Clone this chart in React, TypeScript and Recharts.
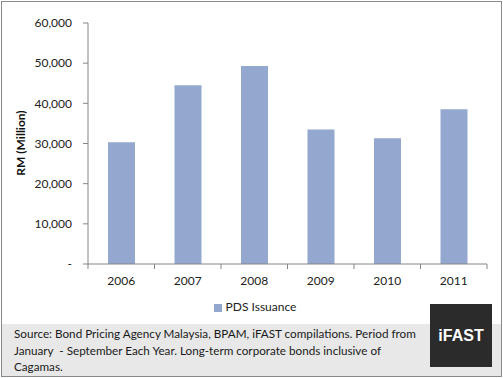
import { Bar, BarChart, Legend, XAxis, YAxis } from "recharts";

const years = ["2006", "2007", "2008", "2009", "2010", "2011"];
const pdsIssuance = [30300, 44500, 49300, 33500, 31300, 38500];
const yTicks = [0, 10000, 20000, 30000, 40000, 50000, 60000];
const footerLines = [
  "Source: Bond Pricing Agency Malaysia, BPAM, iFAST compilations. Period from",
  "January  - September Each Year. Long-term corporate bonds inclusive of",
  "Cagamas.",
];

const data = years.map((year, i) => ({ year, value: pdsIssuance[i] }));

const FONT = "Lato, 'Open Sans', sans-serif";
const AXIS = "#868686";
const BAR = "#94A8CF";

// Excel-style category axis: label at the band centre, tick marks on the band edges
function YearTick(props: any) {
  const { x, y, payload, index, visibleTicksCount } = props;
  const band = 399 / years.length;
  const left = x - band / 2;
  return (
    <g>
      <line x1={left} y1={y - 8} x2={left} y2={y - 3} stroke={AXIS} />
      {index === visibleTicksCount - 1 && (
        <line x1={left + band} y1={y - 8} x2={left + band} y2={y - 3} stroke={AXIS} />
      )}
      <text x={x} y={y + 13} textAnchor="middle" fill="#222" fontSize={12} fontFamily={FONT}>
        {payload.value}
      </text>
    </g>
  );
}

export default function App() {
  return (
    <div style={{ position: "absolute", left: 0, top: 0, width: 503, height: 378, background: "#fff" }}>
      <div
        style={{
          position: "absolute",
          left: 1,
          top: 1,
          width: 501,
          height: 376,
          border: "1px solid #8a8a8a",
          boxSizing: "border-box",
        }}
      />
      <div
        style={{
          position: "absolute",
          left: 2,
          top: 324,
          width: 499,
          height: 52,
          background: "#e8e8e8",
        }}
      />
      <div
        style={{
          position: "absolute",
          left: 14,
          top: 325,
          fontFamily: FONT,
          fontSize: 11.7,
          lineHeight: "16.5px",
          color: "#1a1a1a",
          whiteSpace: "pre",
        }}
      >
        {footerLines.join("\n")}
      </div>
      <div
        style={{
          position: "absolute",
          left: 430,
          top: 304,
          width: 62,
          height: 63,
          background: "#2b2b2b",
          color: "#fff",
          fontFamily: "'Liberation Sans', Arial, sans-serif",
          fontWeight: 700,
          fontSize: 16,
          display: "flex",
          alignItems: "center",
          justifyContent: "center",
        }}
      >
        iFAST
      </div>
      <div style={{ position: "absolute", left: 0, top: 0 }}>
        <BarChart
          width={503}
          height={378}
          data={data}
          margin={{ top: 23, right: 16, bottom: 69, left: 0 }}
          barSize={27}
        >
          <XAxis
            dataKey="year"
            height={30}
            stroke={AXIS}
            tickLine={false}
            tick={<YearTick />}
            interval={0}
          />
          <YAxis
            width={88}
            domain={[0, 60000]}
            ticks={yTicks}
            stroke={AXIS}
            tickSize={5}
            tickMargin={11}
            tick={{ fill: "#222", fontSize: 12, fontFamily: FONT }}
            tickFormatter={(v: number) => (v === 0 ? "-" : v.toLocaleString("en-US"))}
            label={{
              content: () => (
                <text
                  transform="translate(25,143) rotate(-90)"
                  textAnchor="middle"
                  fontFamily={FONT}
                  fontWeight={700}
                  fontSize={12}
                  fill="#111"
                >
                  RM (Million)
                </text>
              ),
            }}
          />
          <Legend
            verticalAlign="bottom"
            align="center"
            iconType="square"
            iconSize={8}
            wrapperStyle={{ left: 210, width: 100, top: 299, fontFamily: FONT, fontSize: 12 }}
            formatter={(v: string) => <span style={{ color: "#222" }}>{v}</span>}
          />
          <Bar dataKey="value" name="PDS Issuance" fill={BAR} isAnimationActive={false} />
        </BarChart>
      </div>
    </div>
  );
}
